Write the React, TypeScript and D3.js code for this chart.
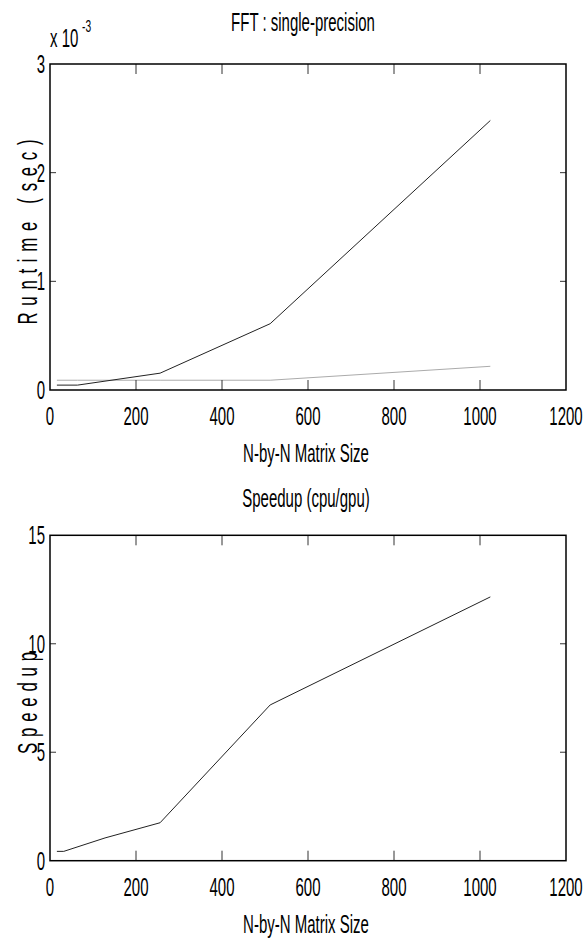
import React from 'react';
import * as d3 from 'd3';

// ---- data ----
const runtimeSizes = [16, 64, 256, 512, 1024];
const cpuRuntime = [0.045e-3, 0.045e-3, 0.155e-3, 0.61e-3, 2.48e-3];
const gpuRuntime = [0.09e-3, 0.09e-3, 0.09e-3, 0.09e-3, 0.218e-3];
const speedupSizes = [16, 32, 128, 256, 512, 1024];
const speedupValues = [0.43, 0.43, 1.05, 1.75, 7.18, 12.16];
const xTicks = [0, 200, 400, 600, 800, 1000, 1200];
const runtimeTicks = [0, 1e-3, 2e-3, 3e-3];
const speedupTicks = [0, 5, 10, 15];

const FONT = "'Liberation Sans', Arial, Helvetica, sans-serif";
const SX = 0.6;

type TProps = {
  x: number; y: number; anchor?: string; size?: number; rotate?: number;
  len?: number; children: React.ReactNode;
};
function T({ x, y, anchor = 'middle', size = 25, rotate = 0, len, children }: TProps) {
  return (
    <text
      transform={`translate(${x},${y}) rotate(${rotate}) scale(${SX},1)`}
      textAnchor={anchor}
      fontSize={size}
      fontFamily={FONT}
      fill="#000"
      {...(len ? { textLength: len / SX, lengthAdjust: 'spacing' } : {})}
    >
      {children}
    </text>
  );
}

type Series = { xs: number[]; ys: number[]; color: string };
type PanelProps = {
  top: number; bottom: number; left: number; right: number;
  yDomain: [number, number]; yTicks: number[]; yFmt: (v: number) => string;
  series: Series[];
};

function Panel({ top, bottom, left, right, yDomain, yTicks, yFmt, series }: PanelProps) {
  const x = d3.scaleLinear().domain([0, 1200]).range([left, right]);
  const y = d3.scaleLinear().domain(yDomain).range([bottom, top]);
  const line = (s: Series) =>
    d3.line<number>().x((_, i) => x(s.xs[i])).y((d) => y(d))(s.ys) || '';
  const xt = 10;
  const yt = 6;
  return (
    <g>
      {series.map((s, i) => (
        <path key={i} d={line(s)} fill="none" stroke={s.color} strokeWidth={1} />
      ))}
      {xTicks.slice(1, -1).map((t) => (
        <g key={'xt' + t} stroke="#333" strokeWidth={1}>
          <line x1={x(t)} x2={x(t)} y1={bottom} y2={bottom - xt} />
          <line x1={x(t)} x2={x(t)} y1={top} y2={top + xt} />
        </g>
      ))}
      {yTicks.slice(1, -1).map((t) => (
        <g key={'yt' + t} stroke="#333" strokeWidth={1}>
          <line x1={left} x2={left + yt} y1={y(t)} y2={y(t)} />
          <line x1={right} x2={right - yt} y1={y(t)} y2={y(t)} />
        </g>
      ))}
      <rect x={left} y={top} width={right - left} height={bottom - top} fill="none" stroke="#000" strokeWidth={1.5} />
      {xTicks.map((t) => (
        <T key={'xl' + t} x={x(t)} y={bottom + 35}>{String(t)}</T>
      ))}
      {yTicks.map((t) => (
        <T key={'yl' + t} x={left - 5} y={y(t) + 9} anchor="end">{yFmt(t)}</T>
      ))}
    </g>
  );
}

export default function App() {
  const L = 50, R = 566;
  return (
    <svg width={586} height={939} style={{ position: 'absolute', left: 0, top: 0, background: '#fff' }}>
      <rect x={0} y={0} width={586} height={939} fill="#fff" />
      {/* top panel */}
      <Panel
        top={64} bottom={390} left={L} right={R}
        yDomain={[0, 3e-3]} yTicks={runtimeTicks}
        yFmt={(v) => String(Math.round(v * 1e3))}
        series={[
          { xs: runtimeSizes, ys: gpuRuntime, color: '#ababab' },
          { xs: runtimeSizes, ys: cpuRuntime, color: '#222' },
        ]}
      />
      <T x={303} y={31}>FFT : single-precision</T>
      <T x={50} y={47} anchor="start">x 10</T>
      <T x={82} y={32} anchor="start" size={17}>-3</T>
      <T x={306} y={462}>N-by-N Matrix Size</T>
      <T x={37} y={232} rotate={-90} size={28} len={185}>Runtime (sec)</T>

      {/* bottom panel */}
      <Panel
        top={535.3} bottom={860.7} left={L} right={R}
        yDomain={[0, 15]} yTicks={speedupTicks}
        yFmt={(v) => String(v)}
        series={[{ xs: speedupSizes, ys: speedupValues, color: '#222' }]}
      />
      <T x={306} y={507}>Speedup (cpu/gpu)</T>
      <T x={306} y={933}>N-by-N Matrix Size</T>
      <T x={37} y={703} rotate={-90} size={28} len={102}>Speedup</T>
    </svg>
  );
}
